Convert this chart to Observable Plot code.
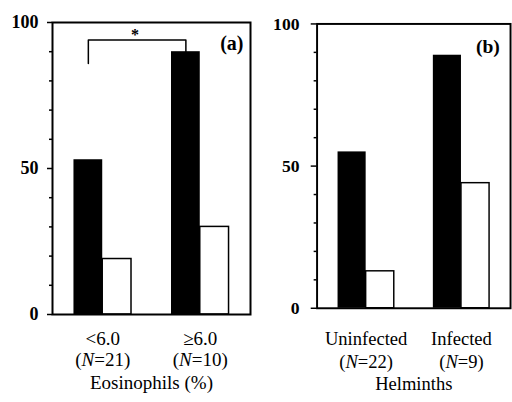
<!DOCTYPE html>
<html><head><meta charset="utf-8">
<script src="https://cdn.jsdelivr.net/npm/d3@7"></script>
<script src="https://cdn.jsdelivr.net/npm/@observablehq/plot@0.6"></script>
<style>
html,body{margin:0;padding:0;background:#fff;overflow:hidden;}
#wrap{position:relative;width:512px;height:402px;overflow:hidden;background:#fff;}
#a{position:absolute;left:0;top:0;}
#b{position:absolute;left:256px;top:0;}
svg, svg text { font-family: 'Liberation Serif', 'Times New Roman', serif !important; }
</style></head><body><div id="wrap"><div id="a"></div><div id="b"></div></div>
<script>
// Panel (a): Eosinophils
const groupsA = ["<6.0", "\u22656.0"];
const nA = [21, 10];
const blackA = [53, 90];
const whiteA = [19, 30];
const labelA = "Eosinophils (%)";
const tagA = "(a)";
// Panel (b): Helminths
const groupsB = ["Uninfected", "Infected"];
const nB = [22, 9];
const blackB = [55, 89];
const whiteB = [13, 44];
const labelB = "Helminths";
const tagB = "(b)";
// axis ticks
const yMajor = [0, 50, 100];
const yMinor = [10, 20, 30, 40, 60, 70, 80, 90];
// significance bracket (panel a)
const bracketY = [86, 94, 94, 90];
const starText = "*";

const FONT = "'Liberation Serif', 'Times New Roman', serif";
const PI = 0.41, PO = 0.22;

function panel(cfg) {
  const {groups, n, black, white, label, tag, width, ml, mr, mt, mb, yTickSize, yPad, xPad, lineH, labelDy, tagDx, tagDy, bracket} = cfg;
  const innerW = width - ml - mr;
  const step = innerW / (groups.length - PI + 2 * PO);
  const bw = step * (1 - PI);
  const rows = groups.flatMap((g, i) => [
    {group: g, series: "black", value: black[i]},
    {group: g, series: "white", value: white[i]}
  ]);
  const nOf = Object.fromEntries(groups.map((g, i) => [g, n[i]]));
  const marks = [
    Plot.barY(rows.filter(d => d.series === "black"), {x: "group", y: "value", fill: "black", insetRight: bw / 2}),
    Plot.barY(rows.filter(d => d.series === "white"), {x: "group", y: "value", fill: "white", stroke: "black", strokeWidth: 1.5, insetLeft: bw / 2}),
    Plot.frame({stroke: "black", strokeWidth: 2}),
    Plot.axisY(yMajor, {tickSize: yTickSize, tickPadding: yPad, fontSize: 18, fontWeight: "bold", fontFamily: FONT, letterSpacing: 1.5, label: null, strokeWidth: 1.5}),
    Plot.axisY(yMinor, {tickSize: 3, tickFormat: () => "", label: null, strokeWidth: 1.5}),
    Plot.axisX(groups, {tickSize: 0, tickPadding: xPad, fontSize: 19, fontFamily: FONT, lineHeight: lineH, label: null,
      tickFormat: g => g + "\n(N=" + nOf[g] + ")"}),
    Plot.text([label], {frameAnchor: "bottom", dy: labelDy, lineAnchor: "top", fontSize: 19, fontFamily: FONT}),
    Plot.text([tag], {frameAnchor: "top-right", textAnchor: "end", lineAnchor: "middle", dx: tagDx, dy: tagDy, fontSize: 20, fontWeight: "bold", fontFamily: FONT})
  ];
  if (bracket) {
    const bx = [groups[0], groups[0], groups[1], groups[1]];
    marks.push(Plot.line(bracketY.map((y, i) => ({x: bx[i], y})), {x: "x", y: "y", dx: -bw / 4, stroke: "black", strokeWidth: 1.5}));
    marks.push(Plot.text([starText], {x: () => groups[0], y: () => bracketY[1], dx: step / 2 - bw / 4 - 2, dy: -5, fontSize: 16, fontWeight: "bold", fontFamily: FONT}));
  }
  const svg = Plot.plot({
    width, height: 402,
    marginLeft: ml, marginRight: mr, marginTop: mt, marginBottom: mb,
    style: {fontFamily: FONT, fontSize: "19px", background: "white", color: "black"},
    x: {type: "band", domain: groups, paddingInner: PI, paddingOuter: PO, round: false, axis: null},
    y: {domain: [0, 100], axis: null},
    marks
  });
  // italicize N in the sample size labels
  svg.querySelectorAll("text, tspan").forEach(el => {
    if (el.childElementCount === 0 && /^\(N=/.test(el.textContent)) {
      const rest = el.textContent.slice(2);
      el.textContent = "(";
      const it = document.createElementNS("http://www.w3.org/2000/svg", "tspan");
      it.setAttribute("font-style", "italic");
      it.textContent = "N";
      el.appendChild(it);
      el.appendChild(document.createTextNode(rest));
    }
  });
  return svg;
}

document.getElementById("a").appendChild(panel({
  groups: groupsA, n: nA, black: blackA, white: whiteA, label: labelA, tag: tagA,
  width: 256, ml: 52, mr: 6, mt: 22, mb: 88, yTickSize: 5, yPad: 9, xPad: 16, lineH: 1.08, labelDy: 61,
  tagDx: -7, tagDy: 21, bracket: true
}));
document.getElementById("b").appendChild(panel({
  groups: groupsB, n: nB, black: blackB, white: whiteB, label: labelB, tag: tagB,
  width: 262, ml: 62, mr: 2, mt: 24, mb: 87, yTickSize: 6, yPad: 12, xPad: 21, lineH: 1.22, labelDy: 70,
  tagDx: -11, tagDy: 23, bracket: false
}));
</script></body></html>
